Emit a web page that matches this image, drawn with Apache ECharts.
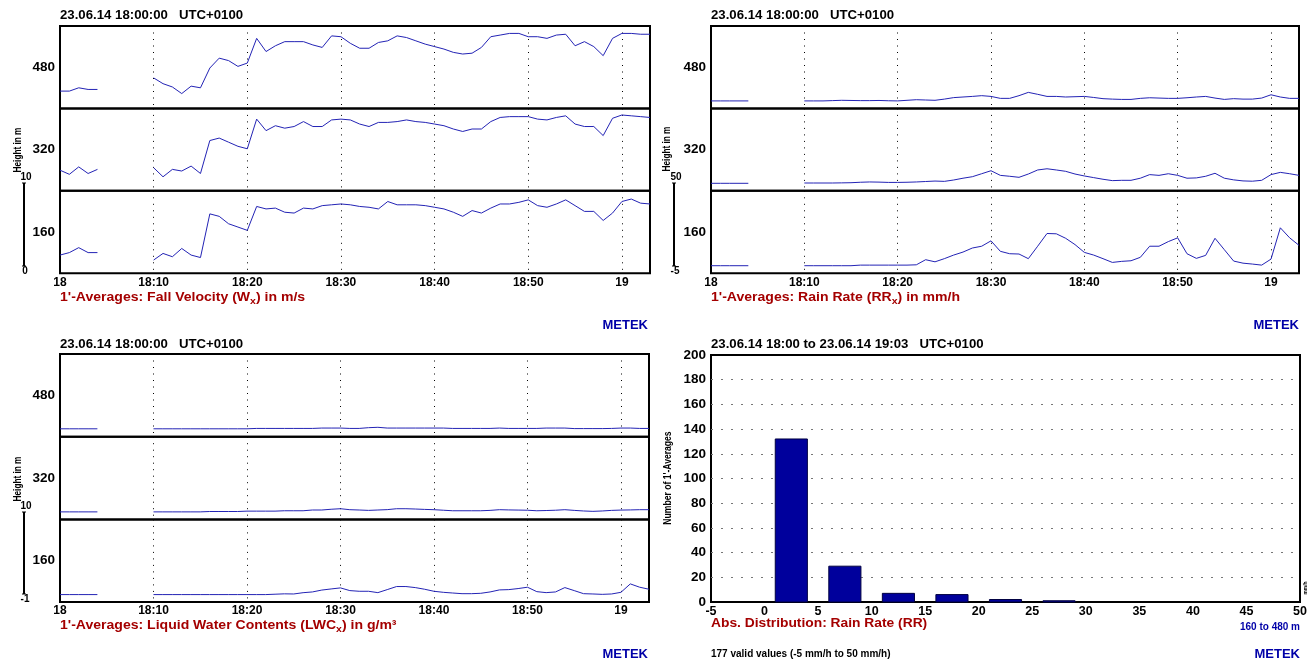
<!DOCTYPE html>
<html><head><meta charset="utf-8">
<script src="https://cdn.jsdelivr.net/npm/echarts@6/dist/echarts.min.js"></script>
<style>html,body{margin:0;padding:0;background:#fff}#c{width:1310px;height:661px}</style>
</head><body><div id="c"></div>
<script>
// ---------- data ----------
const heights = [480, 320, 160];
const timeTicks = ['18', '18:10', '18:20', '18:30', '18:40', '18:50', '19'];
const N = null;
// Fall velocity (m/s), one value per minute from 18:00 to 19:03
const fv480 = [2.1,2.1,2.5,2.3,2.3, N,N,N,N,N, 3.7,3.0,2.6,1.8,2.7,2.5,4.9,6.1,5.8,5.1, 5.5,8.5,6.9,7.6,8.1,8.1,8.1,7.7,7.4,8.8, 8.7,7.9,7.3,7.3,8.0,8.2,8.8,8.6,8.2,7.8, 7.5,7.2,6.8,6.6,6.7,7.4,8.7,8.9,9.1,9.1, 8.7,8.7,8.5,8.9,9.0,7.6,8.1,7.5,6.4,8.5, 9.1,9.1,9.0,9.0];
const fv320 = [2.5,2.0,2.9,2.1,2.6, N,N,N,N,N, 2.8,1.7,2.6,2.4,3.0,2.1,6.1,6.4,5.9,5.4, 5.1,8.7,7.3,7.9,7.6,7.8,8.4,7.8,7.8,8.6, 8.7,8.6,8.1,7.8,8.3,8.3,8.4,8.6,8.4,8.3, 8.1,7.9,7.5,7.2,7.5,7.5,8.4,8.9,9.0,9.0, 9.0,8.7,8.6,8.9,9.1,8.1,7.8,7.8,6.7,8.8, 9.2,9.1,9.0,8.9];
const fv160 = [2.2,2.5,3.1,2.5,2.5, N,N,N,N,N, 1.6,2.4,2.0,3.0,2.2,1.9,7.2,6.9,6.0,5.6, 5.2,8.1,7.8,7.9,7.4,7.3,7.9,7.8,8.2,8.3, 8.4,8.3,8.1,8.0,7.8,8.7,8.3,8.3,8.3,8.2, 8.0,7.8,7.4,6.9,7.6,7.3,7.9,8.4,8.4,8.6, 8.9,8.2,8.0,8.4,8.9,8.2,7.5,7.5,6.4,7.3, 8.7,9.0,8.5,8.4];
// Rain rate (mm/h)
const rr480 = [0,0,0,0,0, N,N,N,N,N, 0,0,0,0.2,0.4,0.3,0.2,0.2,0.3,0.1, 0,0.4,0.8,0.6,0.4,1.2,2.2,2.6,3.0,3.5, 3.0,1.7,1.7,3.5,5.7,4.4,3.0,3.0,2.6,2.8, 3.0,2.3,1.5,1.2,1.0,1.0,1.7,2.1,1.9,1.7, 1.7,2.1,2.6,3.0,1.9,1.0,1.5,1.2,1.2,1.9, 4.1,2.6,1.7,1.7];
const rr320 = [0,0,0,0,0, N,N,N,N,N, 0.2,0.2,0.2,0.2,0.3,0.4,0.7,0.9,0.8,0.6, 0.6,0.7,0.9,1.2,1.5,1.3,2.2,3.4,4.4,6.4, 8.4,5.3,4.7,4.0,6.2,8.9,9.7,8.9,8.0,6.2, 4.9,3.8,2.7,1.8,2.0,2.0,3.4,5.8,5.3,6.4, 5.3,3.4,3.6,4.7,6.7,3.4,2.3,1.6,1.4,2.0, 5.8,7.3,6.4,5.3];
const rr160 = [0,0,0,0,0, N,N,N,N,N, 0,0,0,0,0,0,0.4,0.4,0.4,0.4, 0.4,0.4,0.6,4.0,2.6,4.7,7.1,9.1,11.8,13.0, 16.6,9.6,8.0,7.8,4.7,13.0,21.5,21.3,18.3,14.1, 8.9,7.1,4.7,2.2,2.9,3.3,5.6,13.0,13.0,16.1, 18.6,8.0,4.9,6.9,18.3,10.7,3.1,1.7,1.1,0.4, 4.4,25.3,18.6,13.6];
// Liquid water content (g/m3)
const lwc480 = [0.05,0.05,0.05,0.05,0.05, N,N,N,N,N, 0.05,0.05,0.05,0.05,0.05,0.05,0.05,0.05,0.05,0.05, 0.05,0.1,0.1,0.1,0.1,0.1,0.1,0.1,0.15,0.15, 0.15,0.1,0.1,0.2,0.25,0.15,0.15,0.15,0.15,0.15, 0.15,0.15,0.1,0.1,0.1,0.1,0.1,0.15,0.1,0.1, 0.1,0.1,0.15,0.15,0.15,0.08,0.08,0.08,0.08,0.1, 0.15,0.15,0.1,0.1];
const lwc320 = [0,0,0,0,0, N,N,N,N,N, 0,0,0,0,0,0,0.05,0.05,0.05,0.05, 0.1,0.1,0.1,0.1,0.15,0.15,0.15,0.25,0.25,0.35, 0.42,0.29,0.25,0.2,0.25,0.3,0.42,0.42,0.38,0.33, 0.29,0.22,0.15,0.15,0.15,0.15,0.2,0.29,0.26,0.24, 0.22,0.15,0.18,0.22,0.29,0.2,0.12,0.07,0.12,0.2, 0.24,0.26,0.29,0.29];
const lwc160 = [0,0,0,0,0, N,N,N,N,N, 0,0,0,0,0,0,0,0,0,0, 0,0,0,0.05,0.1,0.08,0.25,0.35,0.6,0.75, 0.89,0.53,0.44,0.44,0.26,0.66,1.07,1.07,0.93,0.71, 0.44,0.30,0.21,0.12,0.12,0.17,0.35,0.62,0.66,0.80, 0.98,0.39,0.26,0.35,0.93,0.53,0.12,0.08,0.03,0.08, 0.30,1.42,0.98,0.71];
// Histogram of rain rate (bins of 5 mm/h)
const binStarts = [-5, 0, 5, 10, 15, 20, 25, 30, 35, 40, 45];
const binCounts = [0, 132, 29, 7, 6, 2, 1, 0, 0, 0, 0];

// ---------- chart ----------
const FONT = "'Liberation Sans', Arial, Helvetica, sans-serif";
const LINE = '#2323b5';
const RED = '#a40000';
const BLUE = '#0000a8';

const panels = [
  {left: 60, top: 26, width: 590, bandH: 82.4, min: 0, max: 10, data: [fv480, fv320, fv160]},
  {left: 711, top: 26, width: 588, bandH: 82.4, min: -5, max: 50, data: [rr480, rr320, rr160]},
  {left: 60, top: 354, width: 589, bandH: 82.7, min: -1, max: 10, data: [lwc480, lwc320, lwc160]}
];

const grid = [], xAxis = [], yAxis = [], series = [];
panels.forEach((p, pi) => {
  for (let b = 0; b < 3; b++) {
    const gi = pi * 3 + b;
    grid.push({left: p.left, top: p.top + b * p.bandH, width: p.width, height: p.bandH,
      show: true, borderColor: '#000', borderWidth: 2, backgroundColor: 'transparent', containLabel: false});
    xAxis.push({gridIndex: gi, type: 'value', min: 0, max: 63, interval: 10,
      axisLine: {show: false}, axisTick: {show: false},
      axisLabel: {show: b === 2, margin: 3, color: '#000', fontWeight: 'bold', fontSize: 12, fontFamily: FONT,
        formatter: v => (v % 10 === 0 ? timeTicks[v / 10] : '')},
      splitLine: {show: true, showMinLine: false, showMaxLine: false, lineStyle: {color: '#000', width: 1, type: [1, 5.5]}}});
    yAxis.push({gridIndex: gi, type: 'value', min: p.min, max: p.max,
      axisLine: {show: false}, axisTick: {show: false}, axisLabel: {show: false}, splitLine: {show: false},
      name: String(heights[b]), nameLocation: 'middle', nameRotate: 0, nameGap: 5,
      nameTextStyle: {color: '#000', fontWeight: 'bold', fontSize: 13.5, fontFamily: FONT}});
    series.push({type: 'line', xAxisIndex: gi, yAxisIndex: gi, symbol: 'none', showSymbol: false,
      connectNulls: false, silent: true, animation: false,
      lineStyle: {color: LINE, width: 1},
      data: p.data[b].map((v, i) => [i, v === null ? '-' : v])});
  }
});

// histogram
grid.push({left: 711, top: 355, width: 589, height: 247, show: true, borderColor: '#000', borderWidth: 2});
xAxis.push({gridIndex: 9, type: 'value', min: -5, max: 50, interval: 5,
  axisLine: {show: false}, axisTick: {show: false}, splitLine: {show: false},
  axisLabel: {margin: 3, color: '#000', fontWeight: 'bold', fontSize: 12.5, fontFamily: FONT}});
yAxis.push({gridIndex: 9, type: 'value', min: 0, max: 200, interval: 20,
  axisLine: {show: false}, axisTick: {show: false},
  axisLabel: {margin: 5, color: '#000', fontWeight: 'bold', fontSize: 13.5, fontFamily: FONT},
  splitLine: {show: true, showMinLine: false, showMaxLine: false, lineStyle: {color: '#777', width: 1, type: [2, 8]}}});
series.push({type: 'custom', xAxisIndex: 9, yAxisIndex: 9, silent: true, animation: false,
  data: binStarts.map((s, i) => [s, binCounts[i]]),
  renderItem: (params, api) => {
    const s = api.value(0), c = api.value(1);
    if (!c) return null;
    const p0 = api.coord([s + 1, 0]);
    const p1 = api.coord([s + 4, c]);
    return {type: 'rect', shape: {x: p0[0], y: p1[1], width: p1[0] - p0[0], height: p0[1] - p1[1]},
      style: {fill: '#00009c', stroke: '#000040', lineWidth: 1}};
  }});

// texts and decorations
const g = [];
function txt(x, y, text, o) {
  o = o || {};
  g.push({type: 'text', x: x, y: y, rotation: o.rot || 0, scaleX: o.sx || 1, silent: true,
    style: {text: text, fill: o.color || '#000', textAlign: o.align || 'left', textVerticalAlign: 'middle',
      font: 'bold ' + (o.size || 12) + 'px ' + FONT}});
}
function richTitle(x, y, before, sub, after) {
  const base = {fill: RED, fontSize: 12, fontWeight: 'bold', fontFamily: FONT};
  g.push({type: 'text', x: x, y: y, scaleX: 1.17, silent: true,
    style: {text: '{a|' + before + '}{s|' + sub + '}{a|' + after + '}', textAlign: 'left', textVerticalAlign: 'middle',
      rich: {a: base, s: Object.assign({}, base, {fontSize: 9, padding: [8, 0, 0, 0]})}}});
}
function scaleBar(x, y0, y1, top, bot) {
  g.push({type: 'line', silent: true, shape: {x1: x, y1: y0, x2: x, y2: y1}, style: {stroke: '#000', lineWidth: 2}});
  g.push({type: 'line', silent: true, shape: {x1: x - 2, y1: y0, x2: x + 2, y2: y0}, style: {stroke: '#000', lineWidth: 1}});
  g.push({type: 'line', silent: true, shape: {x1: x - 2, y1: y1, x2: x + 2, y2: y1}, style: {stroke: '#000', lineWidth: 1}});
  txt(x + 2, y0 - 6, top, {size: 10, align: 'center'});
  txt(x + 1, y1 + 5, bot, {size: 10, align: 'center'});
}

// headers
txt(60, 16, '23.06.14 18:00:00   UTC+0100', {sx: 1.1});
txt(711, 16, '23.06.14 18:00:00   UTC+0100', {sx: 1.1});
txt(60, 345, '23.06.14 18:00:00   UTC+0100', {sx: 1.1});
txt(711, 345, '23.06.14 18:00 to 23.06.14 19:03   UTC+0100', {sx: 1.1});
// titles
richTitle(60, 297.5, "1'-Averages: Fall Velocity (W", 'x', ') in m/s');
richTitle(711, 297.5, "1'-Averages: Rain Rate (RR", 'x', ') in mm/h');
richTitle(60, 625.5, "1'-Averages: Liquid Water Contents (LWC", 'x', ') in g/m³');
txt(711, 624, 'Abs. Distribution: Rain Rate (RR)', {color: RED, size: 12, sx: 1.15});
// METEK
txt(648, 325, 'METEK', {color: BLUE, size: 13, align: 'right'});
txt(1299, 325, 'METEK', {color: BLUE, size: 13, align: 'right'});
txt(648, 654, 'METEK', {color: BLUE, size: 13, align: 'right'});
txt(1300, 654, 'METEK', {color: BLUE, size: 13, align: 'right'});
// height axis titles (condensed)
txt(18, 150, 'Height in m', {rot: Math.PI / 2, align: 'center', size: 11, sx: 0.75});
txt(667, 149, 'Height in m', {rot: Math.PI / 2, align: 'center', size: 11, sx: 0.75});
txt(18, 479, 'Height in m', {rot: Math.PI / 2, align: 'center', size: 11, sx: 0.75});
txt(668, 478, "Number of 1'-Averages", {rot: Math.PI / 2, align: 'center', size: 11, sx: 0.78});
// scale bars
scaleBar(24, 183, 266, '10', '0');
scaleBar(674, 183, 266, '50', '-5');
scaleBar(24, 512, 594, '10', '-1');
// histogram notes
txt(1300, 627, '160 to 480 m', {color: BLUE, size: 10, align: 'right'});
txt(711, 654, '177 valid values (-5 mm/h to 50 mm/h)', {size: 10});
txt(1305, 588, 'mm/h', {rot: Math.PI / 2, align: 'center', size: 6, sx: 0.8});

const chart = echarts.init(document.getElementById('c'), null, {renderer: 'canvas'});
chart.setOption({
  animation: false,
  backgroundColor: '#fff',
  textStyle: {fontFamily: FONT},
  grid: grid, xAxis: xAxis, yAxis: yAxis, series: series,
  graphic: {elements: g}
});
</script>
</body></html>
